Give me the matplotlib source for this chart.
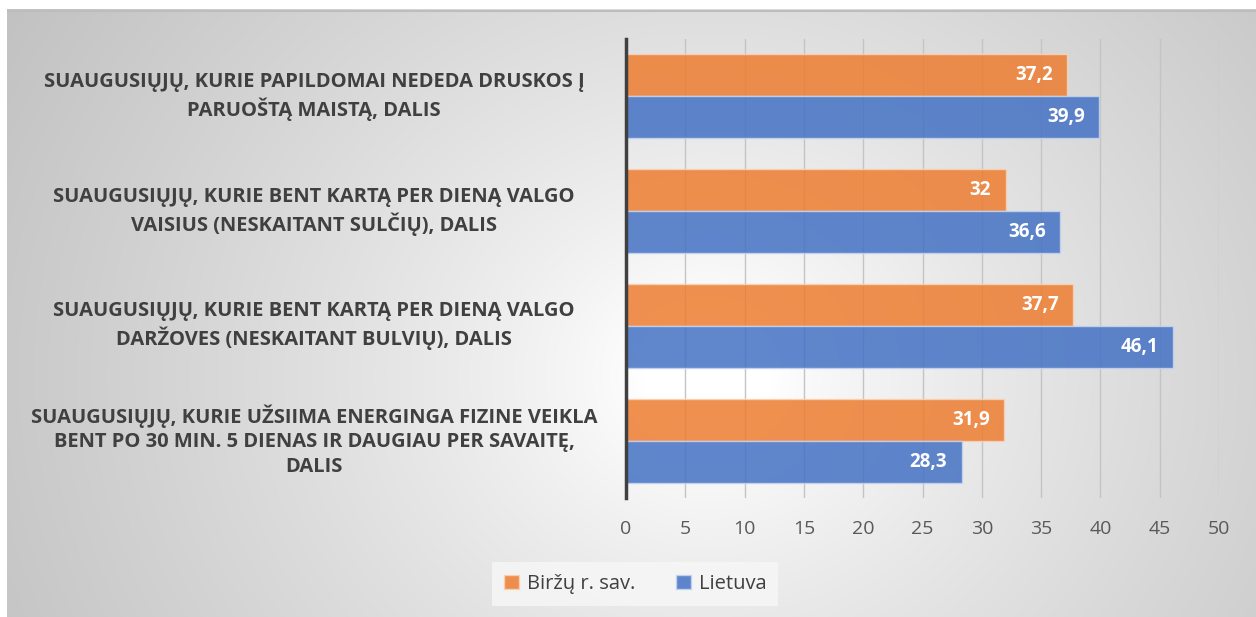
import numpy as np
import matplotlib
matplotlib.use("Agg")
import matplotlib.pyplot as plt
from matplotlib.patches import Rectangle

categories = [
    "SUAUGUSIŲJŲ, KURIE PAPILDOMAI NEDEDA DRUSKOS Į\nPARUOŠTĄ MAISTĄ, DALIS",
    "SUAUGUSIŲJŲ, KURIE BENT KARTĄ PER DIENĄ VALGO\nVAISIUS (NESKAITANT SULČIŲ), DALIS",
    "SUAUGUSIŲJŲ, KURIE BENT KARTĄ PER DIENĄ VALGO\nDARŽOVES (NESKAITANT BULVIŲ), DALIS",
    "SUAUGUSIŲJŲ, KURIE UŽSIIMA ENERGINGA FIZINE VEIKLA\nBENT PO 30 MIN. 5 DIENAS IR DAUGIAU PER SAVAITĘ,\nDALIS",
]
birzu = [37.2, 32.0, 37.7, 31.9]
lietuva = [39.9, 36.6, 46.1, 28.3]
labels_birzu = ["37,2", "32", "37,7", "31,9"]
labels_lietuva = ["39,9", "36,6", "46,1", "28,3"]
series_names = ["Biržų r. sav.", "Lietuva"]
xticks = [0, 5, 10, 15, 20, 25, 30, 35, 40, 45, 50]

W, H = 1256, 617
fig = plt.figure(figsize=(W / 100, H / 100), dpi=100)
fig.patch.set_facecolor("white")

# background panel with radial gradient
bg = fig.add_axes([7 / W, 0, 1 - 7 / W, 1 - 9 / H])
bg.set_axis_off()
ny, nx = 300, 600
yy, xx = np.mgrid[0:ny, 0:nx]
cx, cy = 0.56 * nx, 0.6 * ny
d = np.sqrt(((xx - cx) / nx) ** 2 + 0.3 * ((yy - cy) / ny) ** 2)
d = d / d.max()
val = 1.0 - 0.24 * np.clip((d - 0.08) / 0.92, 0, 1) ** 0.8
img = np.dstack([val, val, val])
bg.imshow(img, extent=[0, 1, 0, 1], aspect="auto", origin="upper")
bg.plot([0, 1], [0.997, 0.997], color="#bdbdbd", lw=1.5)
bg.set_xlim(0, 1)
bg.set_ylim(0, 1)

font = "Open Sans"
ax = fig.add_axes([626 / W, 1 - 498 / H, (1219 - 626) / W, (498 - 39) / H])
ax.patch.set_alpha(0)

n = len(categories)
ypos = np.arange(n)
h = 0.365
orange = "#ED7D31"
blue = "#4472C4"
b1 = ax.barh(ypos - h / 2, birzu, height=h, color=orange, alpha=0.85,
             edgecolor="#f9d3b8", linewidth=1.0, zorder=3)
b2 = ax.barh(ypos + h / 2, lietuva, height=h, color=blue, alpha=0.85,
             edgecolor="#c6d4ee", linewidth=1.0, zorder=3)

for bars, labs in ((b1, labels_birzu), (b2, labels_lietuva)):
    for bar, lab in zip(bars, labs):
        ax.text(bar.get_width() - 1.2, bar.get_y() + bar.get_height() / 2, lab,
                ha="right", va="center", color="white", fontsize=13.5,
                fontweight="bold", family=font, zorder=5)

ax.set_ylim(n - 0.5, -0.5)
ax.set_xlim(0, 50)
ax.set_xticks(xticks)
ax.set_xticklabels([str(t) for t in xticks], fontsize=14, color="#595959", family=font)
ax.set_yticks(ypos)
ax.set_yticklabels([])
ax.tick_params(axis="y", length=0)
ax.tick_params(axis="x", length=0, pad=16)
ax.grid(axis="x", color="#c4c4c4", linewidth=1.0, zorder=0)
ax.set_axisbelow(True)
for s in ["top", "right", "bottom"]:
    ax.spines[s].set_visible(False)
ax.spines["left"].set_color("#404040")
ax.spines["left"].set_linewidth(2.5)
ax.spines["left"].set_zorder(6)

# category labels centred in the left area
lab_x = (314 - 626) / (1219 - 626)
for yv, cat in zip(ypos, categories):
    ax.text(lab_x, yv, cat, transform=ax.get_yaxis_transform(), ha="center", va="center",
            fontsize=14.5, fontweight="bold", color="#404040", family=font,
            linespacing=1.3, clip_on=False)

# legend
handles = [Rectangle((0, 0), 1, 1, facecolor=orange, alpha=0.85, edgecolor="#f9d3b8"),
           Rectangle((0, 0), 1, 1, facecolor=blue, alpha=0.85, edgecolor="#c6d4ee")]
leg = fig.legend(handles, series_names, loc="center", bbox_to_anchor=(635 / W, 1 - 584 / H),
                 ncol=2, frameon=True, fancybox=False, handlelength=0.75, handleheight=0.75,
                 handletextpad=0.4, columnspacing=2.0, borderpad=0.6,
                 prop={"family": font, "size": 14.5})
leg.get_frame().set_facecolor("#f7f7f7")
leg.get_frame().set_alpha(0.8)
leg.get_frame().set_edgecolor("none")
for t in leg.get_texts():
    t.set_color("#404040")

fig.savefig("out.png", dpi=100, facecolor=fig.get_facecolor())
